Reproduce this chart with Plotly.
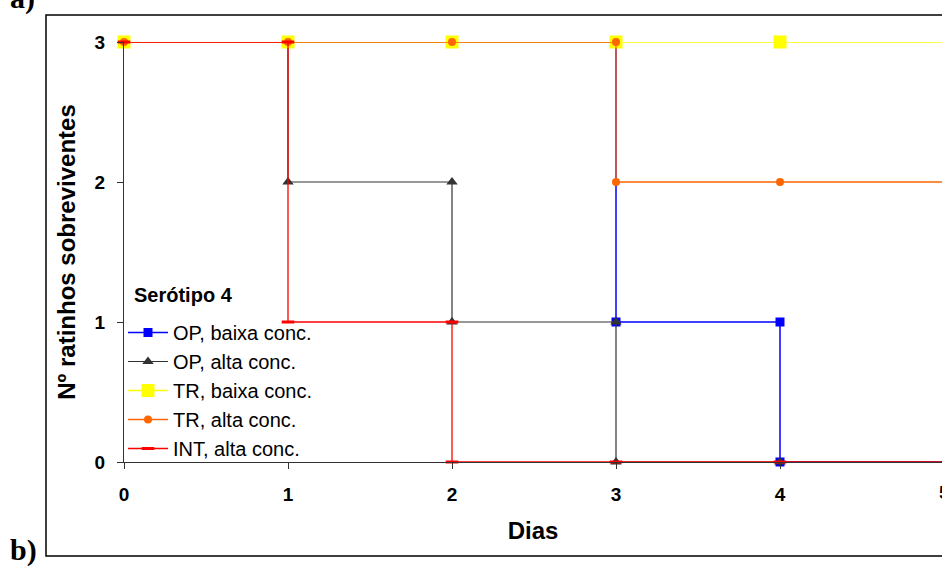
import plotly.graph_objects as go

# ---- data ----
op_baixa_dias = [0, 1, 2, 3, 3, 4, 4, 5]
op_baixa_vals = [3, 3, 3, 3, 1, 1, 0, 0]
op_alta_dias = [0, 1, 1, 2, 2, 3, 3, 4, 5]
op_alta_vals = [3, 3, 2, 2, 1, 1, 0, 0, 0]
tr_baixa_dias = [0, 1, 2, 3, 4, 5]
tr_baixa_vals = [3, 3, 3, 3, 3, 3]
tr_alta_dias = [0, 1, 2, 3, 3, 4, 5]
tr_alta_vals = [3, 3, 3, 3, 2, 2, 2]
int_alta_dias = [0, 1, 1, 2, 2, 3, 4, 5]
int_alta_vals = [3, 3, 1, 1, 0, 0, 0, 0]

x_ticks = [0, 1, 2, 3, 4, 5]
y_ticks = [0, 1, 2, 3]

FONT = "Arial, 'Liberation Sans', sans-serif"
W, H = 942, 567
L, R, T, B = 124, 0, 42, 105
PW, PH = W - L - R, H - T - B
UNIT = 164.0  # px per day

def px_x(p):
    return (p - L) / PW

def px_y(p):
    return (H - B - p) / PH

fig = go.Figure()

def add(name, xs, ys, color, symbol, size, lw=1.3, mline=None):
    marker = dict(symbol=symbol, size=size, color=color)
    if mline:
        marker["line"] = mline
    fig.add_trace(go.Scatter(
        x=xs, y=ys, name=name, mode="lines+markers",
        line=dict(color=color, width=lw), marker=marker, cliponaxis=False))

add("OP, baixa conc.", op_baixa_dias, op_baixa_vals, "#0000FF", "square", 9, 1.5)
add("OP, alta conc.", op_alta_dias, op_alta_vals, "#333333", "triangle-up", 10, 1.2)
add("TR, baixa conc.", tr_baixa_dias, tr_baixa_vals, "#FFFF00", "square", 13, 1.5)
add("TR, alta conc.", tr_alta_dias, tr_alta_vals, "#FF6600", "circle", 8, 1.3)
add("INT, alta conc.", int_alta_dias, int_alta_vals, "#FF0000", "line-ew", 9, 1.3,
    mline=dict(color="#FF0000", width=3))

x_end = (W - L) / UNIT

fig.update_layout(
    width=W, height=H,
    margin=dict(l=L, r=R, t=T, b=B),
    paper_bgcolor="white", plot_bgcolor="white",
    font=dict(family=FONT, color="black"),
    showlegend=True,
    legend=dict(
        x=px_x(123), y=px_y(313), xanchor="left", yanchor="top",
        bgcolor="rgba(0,0,0,0)",
        font=dict(size=20, family=FONT),
        tracegroupgap=0, itemwidth=40,
    ),
    xaxis=dict(
        range=[0, x_end], tickvals=x_ticks[:-1], ticktext=["<b>%d</b>" % v for v in x_ticks[:-1]],
        showgrid=False, zeroline=False, showline=True, linecolor="#333333", linewidth=1.2,
        ticks="outside", ticklen=6, tickcolor="#333333",
        tickfont=dict(size=19, family=FONT), ticklabelstandoff=9,
        title=dict(text="<b>Dias</b>", font=dict(size=24, family=FONT), standoff=18),
    ),
    yaxis=dict(
        range=[0, 3], tickvals=y_ticks, ticktext=["<b>%d</b>" % v for v in y_ticks],
        showgrid=False, zeroline=False, showline=True, linecolor="#333333", linewidth=1.2,
        ticks="outside", ticklen=6, tickcolor="#333333",
        tickfont=dict(size=19, family=FONT), ticklabelstandoff=8,
        title=dict(text="<b>Nº ratinhos sobreviventes</b>", font=dict(size=24, family=FONT), standoff=12),
    ),
    shapes=[dict(type="rect", xref="paper", yref="paper",
                 x0=px_x(46), x1=px_x(960), y0=px_y(556), y1=px_y(15),
                 line=dict(color="black", width=1.5), fillcolor="rgba(0,0,0,0)", layer="below")],
    annotations=[
        dict(text="<b>Serótipo 4</b>", xref="paper", yref="paper", x=px_x(132), y=px_y(295),
             xanchor="left", yanchor="middle", showarrow=False, font=dict(size=20, family=FONT)),
        dict(text="<b>5</b>", xref="paper", yref="paper", x=px_x(L + 5 * UNIT), y=px_y(492),
             xanchor="center", yanchor="middle", showarrow=False, font=dict(size=19, family=FONT)),
        dict(text="<b>a)</b>", xref="paper", yref="paper", x=px_x(8), y=px_y(-2),
             xanchor="left", yanchor="middle", showarrow=False,
             font=dict(size=30, family="'Times New Roman', 'Liberation Serif', serif")),
        dict(text="<b>b)</b>", xref="paper", yref="paper", x=px_x(8), y=px_y(550),
             xanchor="left", yanchor="middle", showarrow=False,
             font=dict(size=30, family="'Times New Roman', 'Liberation Serif', serif")),
    ],
)

fig.write_html("out.html")
